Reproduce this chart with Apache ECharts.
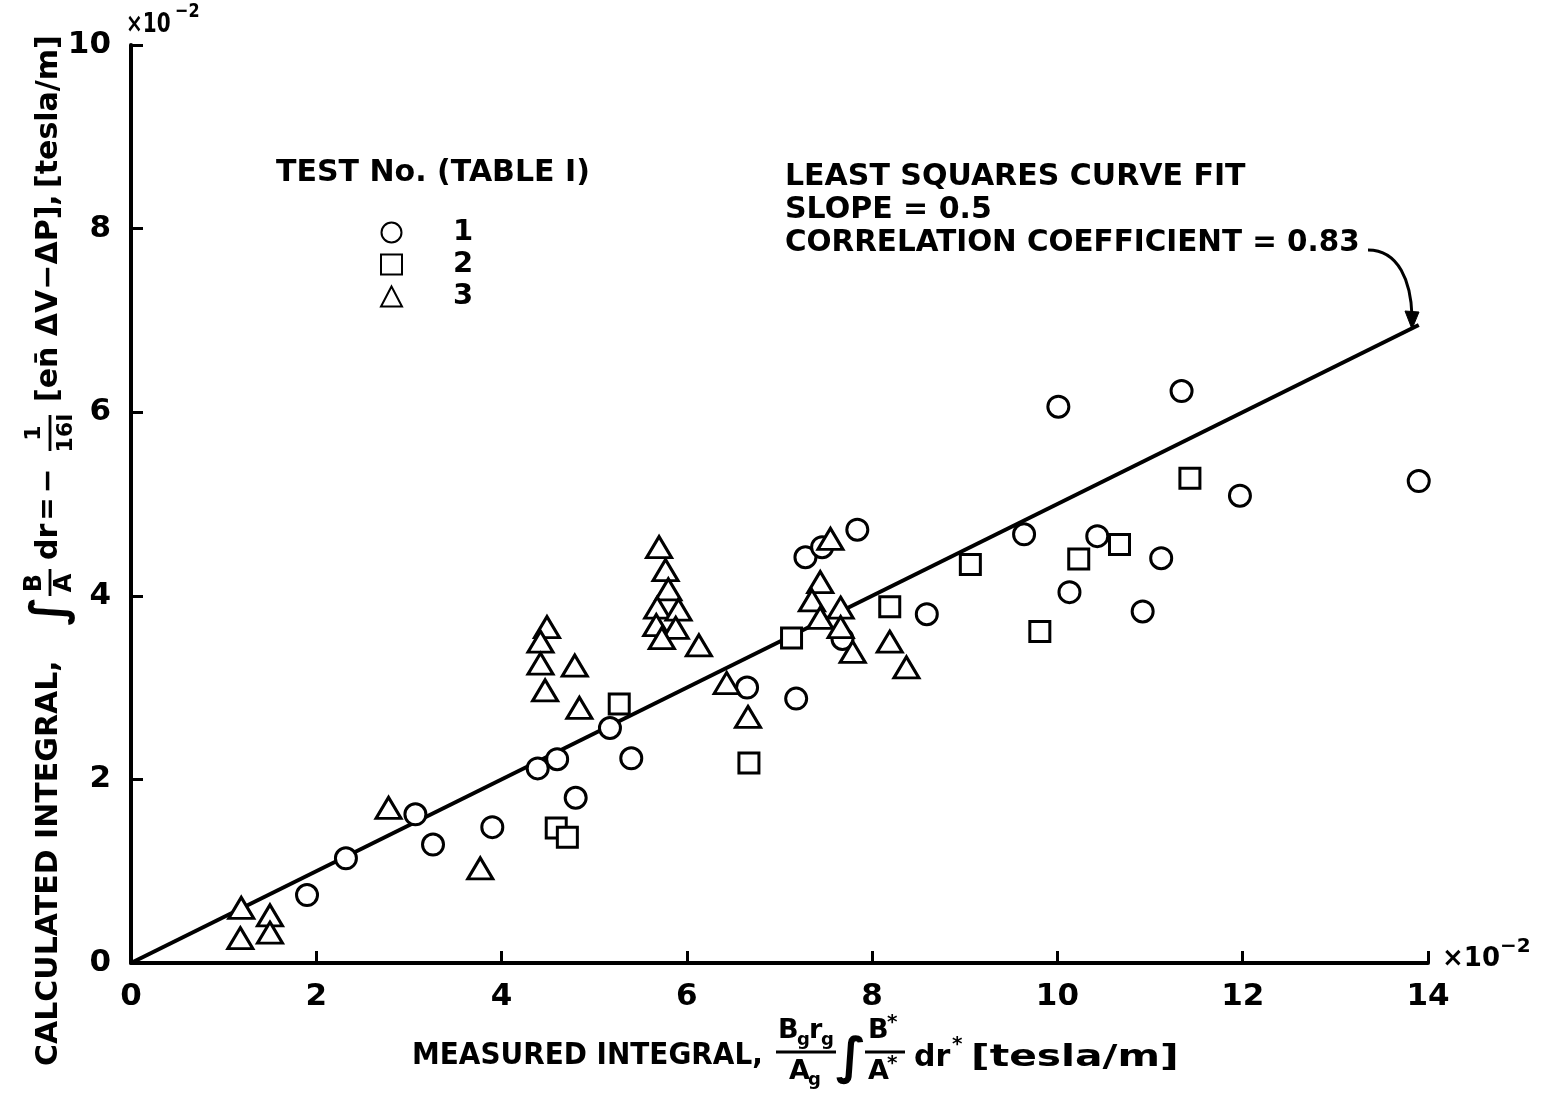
<!DOCTYPE html>
<html>
<head>
<meta charset="utf-8">
<script src="https://cdn.jsdelivr.net/npm/echarts@6/dist/echarts.min.js"></script>
<style>
html,body{margin:0;padding:0;background:#fff;}
#chart{width:1546px;height:1098px;}
</style>
</head>
<body>
<div id="chart"></div>
<script>
// ---- data (units of 10^-2 tesla/m) ----
const xTicks = [0, 2, 4, 6, 8, 10, 12, 14];
const yTicks = [0, 2, 4, 6, 8, 10];

// Test 1 (circles)
const test1X = [1.90, 2.32, 3.07, 3.26, 3.90, 4.39, 4.60, 4.80, 5.17, 5.40, 6.65, 7.18, 7.28, 7.46, 7.84, 7.68, 8.59, 9.64, 10.01, 10.13, 10.43, 10.92, 11.12, 11.34, 11.97, 13.90];
const test1Y = [0.74, 1.14, 1.62, 1.29, 1.48, 2.12, 2.22, 1.80, 2.56, 2.23, 3.00, 2.88, 4.42, 4.53, 4.72, 3.53, 3.80, 4.67, 6.06, 4.04, 4.65, 3.83, 4.41, 6.23, 5.09, 5.25];

// Test 2 (squares)
const test2X = [4.59, 4.71, 5.27, 6.67, 7.13, 8.19, 9.06, 9.81, 10.23, 10.67, 11.43];
const test2Y = [1.47, 1.37, 2.82, 2.18, 3.54, 3.88, 4.34, 3.61, 4.40, 4.56, 5.28];

// Test 3 (triangles)
const test3X = [1.19, 1.18, 1.50, 1.50, 2.78, 3.77, 4.49, 4.42, 4.42, 4.47, 4.79, 4.84, 5.70, 5.77, 5.80, 5.68, 5.91, 5.67, 5.88, 5.73, 6.13, 6.43, 6.66, 7.55, 7.44, 7.35, 7.44, 7.66, 7.66, 7.79, 8.19, 8.37];
const test3Y = [0.60, 0.27, 0.52, 0.33, 1.69, 1.03, 3.66, 3.50, 3.26, 2.97, 3.24, 2.78, 4.53, 4.28, 4.07, 3.87, 3.85, 3.68, 3.65, 3.54, 3.46, 3.05, 2.68, 4.62, 4.15, 3.95, 3.76, 3.87, 3.66, 3.39, 3.50, 3.22];

// least squares fit line (slope 0.5)
const fitX = [0, 13.9];
const fitY = [0, 6.95];

const FONT = "'DejaVu Sans','Noto Sans',sans-serif";
const W = 'bold';

function zip(a, b) { return a.map((v, i) => [v, b[i]]); }
function T(x, y, s, size, sx, align) {
  const a = align || 'left';
  const el = {
    type: 'text', x: x, y: y,
    style: { text: s, fontSize: size, fontFamily: FONT, fontWeight: W, fill: '#000',
      align: a, textAlign: a, verticalAlign: 'middle', textVerticalAlign: 'middle' }
  };
  if (sx) el.scaleX = sx;
  return el;
}
function TC(x, y, s, size) { return T(x, y, s, size, null, 'center'); }
function L(x1, y1, x2, y2, w) {
  return { type: 'line', shape: { x1, y1, x2, y2 }, style: { stroke: '#000', lineWidth: w || 2.8 } };
}

const chart = echarts.init(document.getElementById('chart'), null, { renderer: 'canvas' });

const itemStyle = { color: '#fff', borderColor: '#000', borderWidth: 3, opacity: 1 };

// y-axis title built in a rotated group (reads bottom to top)
const yTitle = {
  type: 'group', x: 49, y: 1066, rotation: Math.PI / 2,
  children: [
    T(0, 0, 'CALCULATED INTEGRAL,', 30),
    TC(455, 3, '\u222B', 48),
    TC(483, -14, 'B', 24),
    L(470, 1, 497, 1),
    TC(483, 16, 'A', 24),
    T(506, 0, 'dr', 30),
    TC(557, 0, '=', 28),
    TC(585, 0, '\u2212', 30),
    TC(633, -15, '1', 22),
    L(615, 1, 651, 1),
    TC(633, 17, '16I', 22),
    T(664, 0, '[en\u0304 \u0394V\u2212\u0394P],', 30),
    T(878, 0, '[tesla/m]', 30)
  ]
};

const option = {
  backgroundColor: '#fff',
  animation: false,
  grid: { left: 131, right: 118, top: 45, bottom: 135, containLabel: false },
  xAxis: {
    type: 'value', min: 0, max: 14, interval: 2,
    axisLine: { show: true, onZero: false, lineStyle: { color: '#000', width: 4 } },
    axisTick: { show: true, inside: true, length: 12, lineStyle: { color: '#000', width: 3 } },
    axisLabel: { show: true, margin: 18, fontSize: 31, fontFamily: FONT, fontWeight: W, color: '#000',
      formatter: v => xTicks.includes(v) ? String(v) : '' },
    splitLine: { show: false }
  },
  yAxis: {
    type: 'value', min: 0, max: 10, interval: 2,
    axisLine: { show: true, onZero: false, lineStyle: { color: '#000', width: 4 } },
    axisTick: { show: true, inside: true, length: 12, lineStyle: { color: '#000', width: 3 } },
    axisLabel: { show: true, margin: 20, fontSize: 31, fontFamily: FONT, fontWeight: W, color: '#000',
      formatter: v => yTicks.includes(v) ? String(v) : '' },
    splitLine: { show: false }
  },
  legend: {
    orient: 'vertical', left: 380, top: 218, padding: 0,
    itemWidth: 21, itemHeight: 20, itemGap: 3,
    data: ['1', '2', '3'],
    selectedMode: false,
    textStyle: { fontSize: 29, fontFamily: FONT, fontWeight: W, color: '#000',
      padding: [0, 0, 0, 46] }
  },
  series: [
    { name: 'fit', type: 'line', data: zip(fitX, fitY), symbol: 'none', z: 1,
      lineStyle: { color: '#000', width: 4 }, silent: true },
    { name: '1', type: 'scatter', symbol: 'circle', symbolSize: 21, z: 3,
      itemStyle: itemStyle, data: zip(test1X, test1Y) },
    { name: '2', type: 'scatter', symbol: 'rect', symbolSize: 20, z: 3,
      itemStyle: itemStyle, data: zip(test2X, test2Y) },
    { name: '3', type: 'scatter', symbol: 'triangle', symbolSize: [25, 21], z: 3,
      itemStyle: itemStyle, data: zip(test3X, test3Y) }
  ],
  graphic: [
    // legend heading
    T(276, 173, 'TEST No. (TABLE I)', 30),
    // fit annotation
    T(785, 177, 'LEAST SQUARES CURVE FIT', 30),
    T(785, 210, 'SLOPE = 0.5', 30),
    T(785, 243, 'CORRELATION COEFFICIENT = 0.83', 30, 0.98),
    { type: 'bezierCurve',
      shape: { x1: 1368, y1: 250, cpx1: 1399, cpy1: 250, cpx2: 1411, cpy2: 282, x2: 1412, y2: 316 },
      style: { stroke: '#000', lineWidth: 3, fill: null } },
    { type: 'polygon', shape: { points: [[1405, 311], [1419, 312], [1412, 329]] },
      style: { fill: '#000', stroke: '#000', lineWidth: 1 } },
    // x10^-2 multipliers
    T(126, 25, '\u00D710', 27, 0.74),
    T(175, 12, '\u22122', 20, 0.8),
    T(1442, 959, '\u00D710', 26),
    T(1500, 947, '\u22122', 20),
    // x-axis title
    T(412, 1056, 'MEASURED INTEGRAL,', 30, 0.93),
    T(778, 1031, 'B', 27), T(797, 1040, 'g', 18), T(809, 1031, 'r', 27), T(821, 1040, 'g', 18),
    L(776, 1052, 836, 1052),
    T(789, 1072, 'A', 27), T(808, 1080, 'g', 18),
    TC(851, 1060, '\u222B', 50),
    T(868, 1031, 'B', 27), T(887, 1023, '*', 20),
    L(865, 1052, 905, 1052),
    T(868, 1072, 'A', 27), T(887, 1064, '*', 20),
    T(914, 1058, 'dr', 30), T(952, 1045, '*', 20),
    T(971, 1058, '[tesla/m]', 30, 1.36),
    yTitle
  ]
};
chart.setOption(option);
</script>
</body>
</html>
